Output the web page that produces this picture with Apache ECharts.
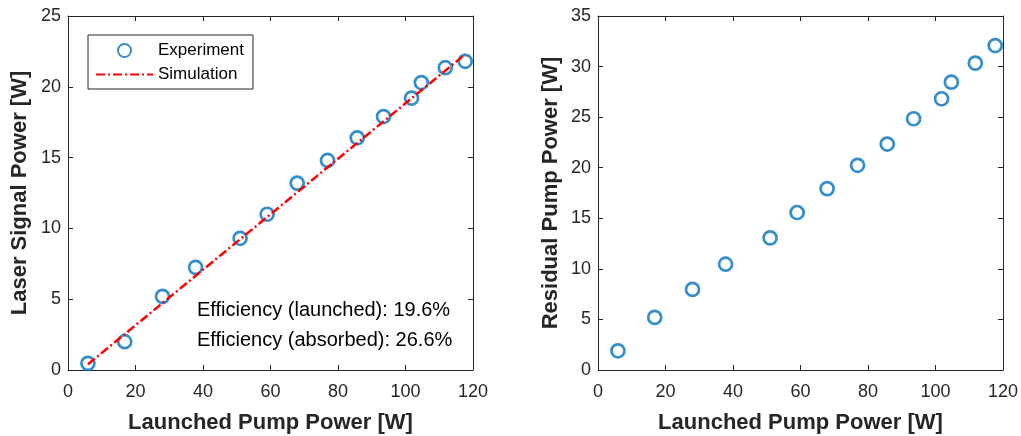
<!DOCTYPE html>
<html>
<head>
<meta charset="utf-8">
<script src="https://cdn.jsdelivr.net/npm/echarts@6/dist/echarts.min.js"></script>
<style>
  html, body { margin: 0; padding: 0; background: #fff; }
  #chart { width: 1021px; height: 436px; }
</style>
</head>
<body>
<div id="chart"></div>
<script>
// launched pump power [W]
var pumpPower = [5.9, 16.8, 28.0, 37.8, 51.0, 59.0, 67.9, 76.9, 85.7, 93.5, 101.8, 104.7, 111.8, 117.7];
// laser signal power [W]
var signalPower = [0.47, 2.0, 5.2, 7.25, 9.3, 11.0, 13.2, 14.8, 16.4, 17.9, 19.2, 20.3, 21.35, 21.8];
// residual pump power [W]
var residualPower = [1.9, 5.2, 7.97, 10.46, 13.06, 15.57, 17.93, 20.24, 22.34, 24.84, 26.82, 28.46, 30.34, 32.08];
// simulation line end points
var simX = [5.9, 117.7];
var simY = [0.4, 22.3];
var notes = ['Efficiency (launched): 19.6%', 'Efficiency (absorbed): 26.6%'];

var font = 'Liberation Sans, Arial, Helvetica, sans-serif';
var ink = '#262626';
var blue = '#0072BD';

function pairs(xs, ys) {
    return xs.map(function (x, i) { return [x, ys[i]]; });
}

function xAx(gi, pos, show) {
    return {
        type: 'value', gridIndex: gi, position: pos, min: 0, max: 120, interval: 20,
        name: show ? 'Launched Pump Power [W]' : '', nameLocation: 'middle', nameGap: 42,
        nameTextStyle: { fontFamily: font, fontSize: 22, fontWeight: 'bold', color: ink },
        axisLine: { onZero: false, lineStyle: { color: ink, width: 1 } },
        axisTick: { inside: true, length: 5, lineStyle: { color: ink } },
        axisLabel: { show: show, margin: 13, fontFamily: font, fontSize: 18, color: ink },
        splitLine: { show: false }
    };
}

function yAx(gi, pos, show, max, name, gap) {
    return {
        type: 'value', gridIndex: gi, position: pos, min: 0, max: max, interval: 5,
        name: show ? name : '', nameLocation: 'middle', nameGap: gap,
        nameTextStyle: { fontFamily: font, fontSize: 22, fontWeight: 'bold', color: ink },
        axisLine: { onZero: false, lineStyle: { color: ink, width: 1 } },
        axisTick: { inside: true, length: 5, lineStyle: { color: ink } },
        axisLabel: { show: show, margin: 7, fontFamily: font, fontSize: 18, color: ink },
        splitLine: { show: false }
    };
}

var chart = echarts.init(document.getElementById('chart'));
var option = {
    backgroundColor: '#fff',
    animation: false,
    grid: [
        { left: 68, top: 16, width: 405, height: 354, outerBoundsMode: 'none' },
        { left: 598, top: 16, width: 405, height: 354, outerBoundsMode: 'none' }
    ],
    xAxis: [xAx(0, 'bottom', true), xAx(0, 'top', false), xAx(1, 'bottom', true), xAx(1, 'top', false)],
    yAxis: [
        yAx(0, 'left', true, 25, 'Laser Signal Power [W]', 37), yAx(0, 'right', false, 25, '', 0),
        yAx(1, 'left', true, 35, 'Residual Pump Power [W]', 36), yAx(1, 'right', false, 35, '', 0)
    ],
    legend: {
        orient: 'vertical', left: 88, top: 35, padding: [7, 9, 6, 7], itemGap: 7,
        itemWidth: 57, itemHeight: 13,
        backgroundColor: '#fff', borderColor: ink, borderWidth: 1, borderRadius: 0,
        textStyle: { fontFamily: font, fontSize: 17, color: '#000', padding: [0, 0, 0, 0] },
        data: [
            { name: 'Experiment' },
            { name: 'Simulation', itemStyle: { color: 'transparent', borderWidth: 0, opacity: 0 } }
        ]
    },
    graphic: [
        { type: 'text', left: 197, top: 300, style: { text: notes[0], font: '20px ' + font, fill: '#000' } },
        { type: 'text', left: 197, top: 330, style: { text: notes[1], font: '20px ' + font, fill: '#000' } }
    ],
    series: [
        {
            name: 'Simulation', type: 'line', xAxisIndex: 0, yAxisIndex: 0,
            data: pairs(simX, simY), symbol: 'none', showSymbol: false, z: 3,
            lineStyle: { color: '#FF0000', width: 2.5, type: [9, 3, 2, 3] },
            itemStyle: { color: '#FF0000' }
        },
        {
            name: 'Experiment', type: 'scatter', xAxisIndex: 0, yAxisIndex: 0,
            data: pairs(pumpPower, signalPower), symbol: 'circle', symbolSize: 13, z: 2,
            itemStyle: { color: 'transparent', borderColor: blue, borderWidth: 2.7 }
        },
        {
            name: 'Residual', type: 'scatter', xAxisIndex: 2, yAxisIndex: 2,
            data: pairs(pumpPower, residualPower), symbol: 'circle', symbolSize: 13,
            itemStyle: { color: 'transparent', borderColor: blue, borderWidth: 2.7 }
        }
    ]
};
chart.setOption(option);
</script>
</body>
</html>
